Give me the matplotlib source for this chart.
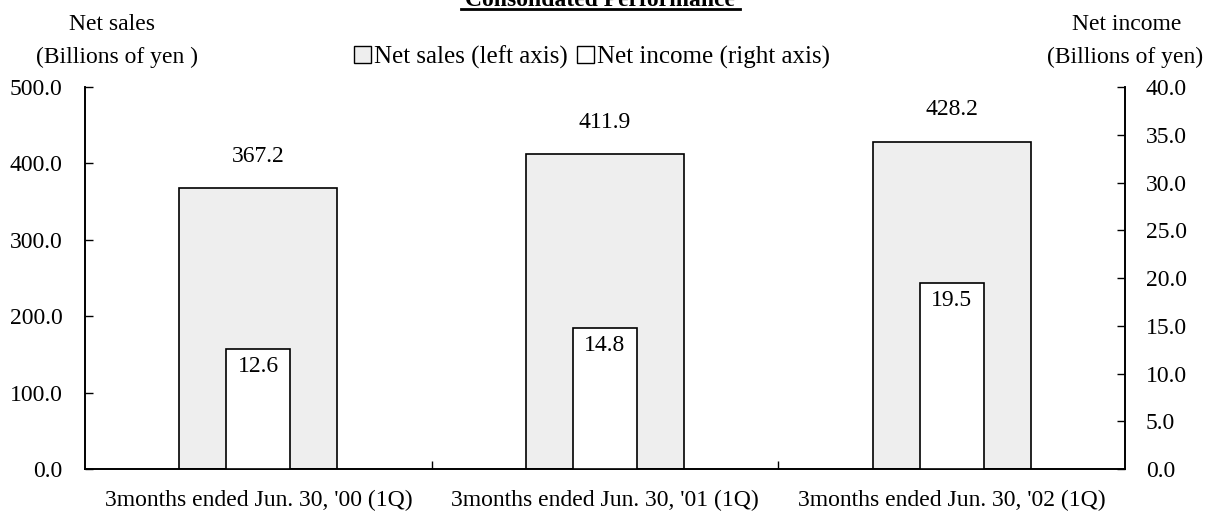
import matplotlib.pyplot as plt
import numpy as np
from matplotlib.patches import Patch

plt.rcParams['font.family'] = ['Liberation Serif', 'DejaVu Serif']

# data
categories = ["3months ended Jun. 30, '00 (1Q)",
              "3months ended Jun. 30, '01 (1Q)",
              "3months ended Jun. 30, '02 (1Q)"]
net_sales = [367.2, 411.9, 428.2]
net_income = [12.6, 14.8, 19.5]
left_ticks = [0, 100, 200, 300, 400, 500]
right_ticks = [0, 5, 10, 15, 20, 25, 30, 35, 40]

fs = 17
W, H = 1207, 517
fig = plt.figure(figsize=(12.07, 5.17), dpi=100)
ax = fig.add_axes([85 / W, 1 - 469 / H, 1040 / W, 382 / H])
ax2 = ax.twinx()

x = np.arange(len(categories))
ax.bar(x, net_sales, width=0.455, color='#eeeeee', edgecolor='black', linewidth=1.2, zorder=2)
ax2.bar(x, net_income, width=0.185, color='white', edgecolor='black', linewidth=1.2, zorder=3)

for xi, v in zip(x, net_sales):
    ax.annotate('%.1f' % v, (xi, v), xytext=(0, 23), textcoords='offset points',
                ha='center', va='center', fontsize=fs)
for xi, v in zip(x, net_income):
    ax2.annotate('%.1f' % v, (xi, v), xytext=(0, -13), textcoords='offset points',
                 ha='center', va='center', fontsize=fs)

ax.set_xlim(-0.5, 2.5)
ax.set_ylim(0, 500)
ax2.set_ylim(0, 40)
ax.set_yticks(left_ticks)
ax.set_yticklabels(['%.1f' % t for t in left_ticks], fontsize=fs)
ax2.set_yticks(right_ticks)
ax2.set_yticklabels(['%.1f' % t for t in right_ticks], fontsize=fs)
ax.set_xticks(x)
ax.set_xticklabels(categories, fontsize=fs)
ax.tick_params(axis='x', length=0, pad=15)
ax.set_xticks([0.5, 1.5], minor=True)
ax.tick_params(axis='x', which='minor', direction='in', length=6, width=1)
ax.tick_params(axis='y', direction='in', length=6, width=1, pad=16)
ax2.tick_params(axis='y', direction='in', length=6, width=1, pad=15)

for a in (ax, ax2):
    a.spines['top'].set_visible(False)
    for s in ('left', 'right', 'bottom'):
        a.spines[s].set_linewidth(1.2)

fig.text(600 / W, 1 - 6 / H, 'Consolidated Performance', ha='center', va='baseline',
         fontsize=fs, fontweight='bold')
# underline under the title
fig.add_artist(plt.Line2D([461 / W, 740 / W], [1 - 9 / H, 1 - 9 / H], color='black', linewidth=2))

fig.text(112 / W, 1 - 24 / H, 'Net sales', ha='center', va='center', fontsize=fs)
fig.text(117 / W, 1 - 57 / H, '(Billions of yen )', ha='center', va='center', fontsize=fs)
fig.text(1127 / W, 1 - 24 / H, 'Net income', ha='center', va='center', fontsize=fs)
fig.text(1125 / W, 1 - 57 / H, '(Billions of yen)', ha='center', va='center', fontsize=fs)

handles = [Patch(facecolor='#eeeeee', edgecolor='black', label='Net sales (left axis)'),
           Patch(facecolor='white', edgecolor='black', label='Net income (right axis)')]
fig.legend(handles=handles, loc='center', bbox_to_anchor=(592 / W, 1 - 57 / H), ncol=2,
           frameon=False, fontsize=18, handlelength=0.7, handleheight=0.7,
           handletextpad=0.12, columnspacing=0.35, borderaxespad=0, borderpad=0)

fig.savefig('out.png', dpi=100)
